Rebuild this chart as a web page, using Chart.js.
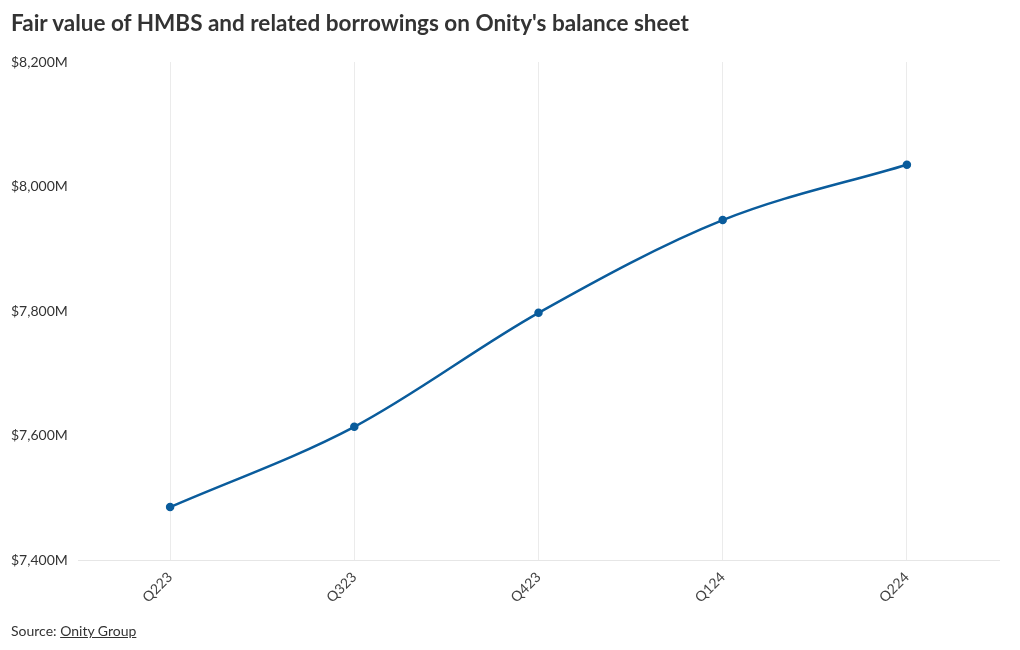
<!DOCTYPE html>
<html>
<head>
<meta charset="utf-8">
<script src="https://cdn.jsdelivr.net/npm/chart.js@4.4.0/dist/chart.umd.min.js"></script>
<style>
  html, body { margin: 0; padding: 0; background: #fff; }
  body { width: 1020px; height: 650px; position: relative; overflow: hidden; font-family: Lato, sans-serif; }
  #title { position: absolute; left: 11px; top: 9px; font-size: 22.5px; font-weight: bold; color: #333; white-space: nowrap; }
  #source { position: absolute; left: 11px; top: 622px; font-size: 14px; color: #333; }
  #source a { color: #333; text-decoration: underline; }
  #wrap { position: absolute; left: 0; top: 0; width: 1020px; height: 650px; }
</style>
</head>
<body>
<div id="wrap"><canvas id="myChart"></canvas></div>
<div id="title">Fair value of HMBS and related borrowings on Onity's balance sheet</div>
<div id="source">Source: <a href="#">Onity Group</a></div>
<script>
// quarters and fair value ($M)
const quarters = ['Q223', 'Q323', 'Q423', 'Q124', 'Q224'];
const fairValue = [7485, 7614, 7797, 7946, 8035];
const yTicks = [7400, 7600, 7800, 8000, 8200];

const lineColor = '#0a5c9c';

const ctx = document.getElementById('myChart').getContext('2d');
new Chart(ctx, {
  type: 'line',
  data: {
    labels: quarters,
    datasets: [{
      label: 'Fair value',
      data: fairValue,
      borderColor: lineColor,
      backgroundColor: lineColor,
      borderWidth: 2.5,
      pointRadius: 3,
      pointHoverRadius: 4,
      cubicInterpolationMode: 'monotone'
    }]
  },
  options: {
    responsive: true,
    maintainAspectRatio: false,
    animation: false,
    layout: {
      padding: { left: 11, right: 21, top: 62, bottom: 40 }
    },
    plugins: {
      legend: { display: false },
      title: { display: false },
      tooltip: { enabled: false }
    },
    scales: {
      x: {
        type: 'category',
        offset: true,
        grid: { display: true, offset: false, color: '#ebebeb', drawTicks: false },
        border: { display: true, color: '#e6e6e6' },
        ticks: {
          color: '#444',
          font: { family: 'Lato', size: 14 },
          maxRotation: 45,
          minRotation: 45,
          padding: 9
        },
        afterFit: function(scale) { scale.height = 50; }
      },
      y: {
        min: 7400,
        max: 8200,
        afterBuildTicks: function(scale) {
          scale.ticks = yTicks.map(v => ({ value: v }));
        },
        grid: { display: false },
        border: { display: false },
        ticks: {
          color: '#333',
          font: { family: 'Lato', size: 14 },
          crossAlign: 'far',
          padding: 0,
          callback: v => '$' + v.toLocaleString('en-US') + 'M'
        },
        afterFit: function(scale) { scale.width = 67; }
      }
    }
  }
});
</script>
</body>
</html>
